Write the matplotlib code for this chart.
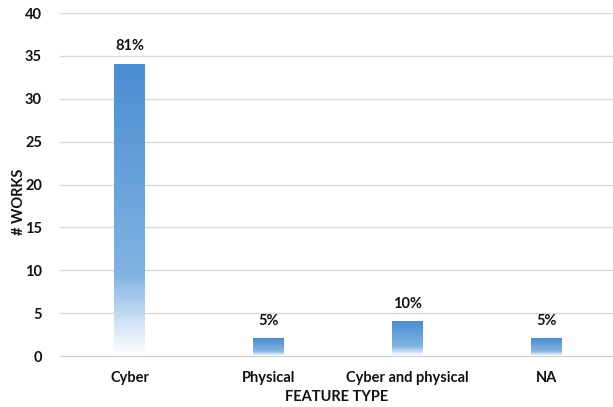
import matplotlib
matplotlib.use("Agg")
import matplotlib.pyplot as plt
import numpy as np
from matplotlib.colors import LinearSegmentedColormap

categories = ["Cyber", "Physical", "Cyber and physical", "NA"]
values = [34, 2, 4, 2]
labels = ["81%", "5%", "10%", "5%"]
yticks = [0, 5, 10, 15, 20, 25, 30, 35, 40]

plt.rcParams['font.family'] = ['Lato', 'DejaVu Sans']
plt.rcParams['font.weight'] = 'bold'

fig = plt.figure(figsize=(6.13, 4.07), dpi=100)
ax = fig.add_axes([0.098, 0.125, 0.902, 0.843])

cmap = LinearSegmentedColormap.from_list(
    "bar", [(0.0, "#ffffff"), (0.1, "#d6e6f6"), (0.28, "#80b3e2"), (1.0, "#4a8dd2")])
grad = np.linspace(0, 1, 256).reshape(-1, 1)

x = np.arange(len(categories))
width = 0.22
bars = ax.bar(x, values, width=width, color="none", edgecolor="none", zorder=3)
for b, lab in zip(bars, labels):
    x0 = b.get_x()
    h = b.get_height()
    ax.imshow(grad, cmap=cmap, aspect="auto", origin="lower",
              extent=(x0, x0 + b.get_width(), 0, h), zorder=3, interpolation="bilinear")
    ax.text(x0 + b.get_width() / 2, h + 1.3, lab, ha="center", va="bottom",
            fontsize=10.5, fontweight="bold", color="#111111")

ax.set_xlim(-0.5, 3.48)
ax.set_ylim(0, 40)
ax.set_yticks(yticks)
ax.set_xticks(x)
ax.set_xticklabels(categories)
ax.grid(axis="y", color="#d9d9d9", linewidth=1, zorder=0)
ax.set_axisbelow(True)
for s in ["top", "right", "left"]:
    ax.spines[s].set_visible(False)
ax.spines["bottom"].set_color("#d0d0d0")
ax.tick_params(axis="both", length=0, labelsize=10.5, colors="#111111")
ax.tick_params(axis="y", pad=13)
ax.tick_params(axis="x", pad=11)
ax.set_xlabel("FEATURE TYPE", fontsize=10.5, fontweight="bold", color="#111111")
ax.xaxis.set_label_coords(0.5, -0.12)
ax.xaxis.label.set_va("center")
ax.set_ylabel("# WORKS", fontsize=10.5, fontweight="bold", color="#111111")
ax.yaxis.set_label_coords(-0.075, 0.45)
ax.yaxis.label.set_va("center")

fig.savefig("out.png", dpi=100)
